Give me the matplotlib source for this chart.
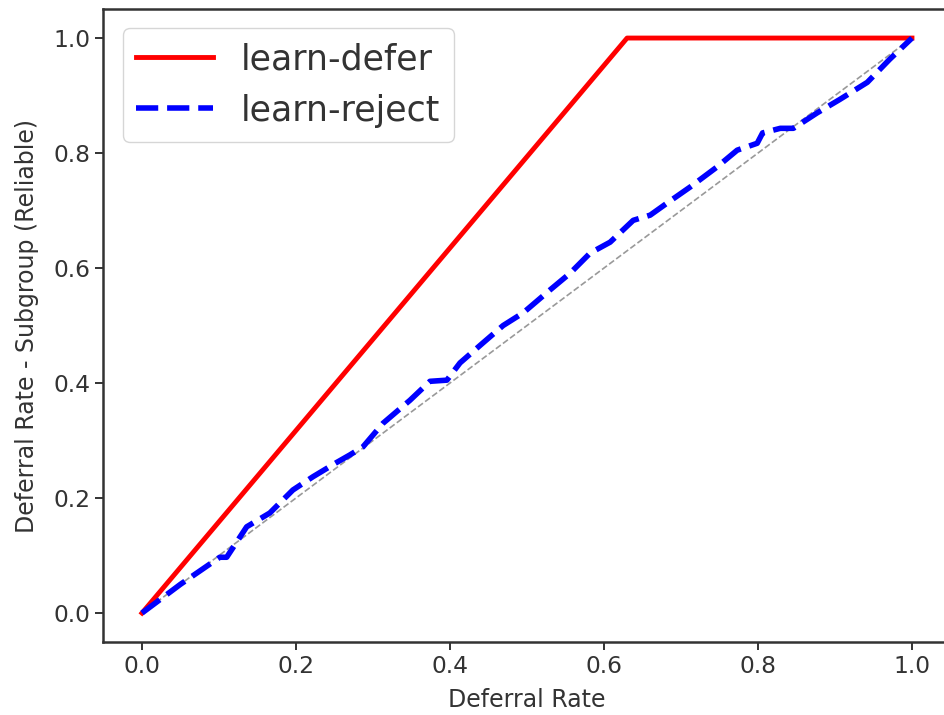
import numpy as np
from matplotlib import pyplot as plt

# red curve: learn-defer
defer_x = [0.0, 0.63, 1.0]
defer_y = [0.0, 1.0, 1.0]

# blue curve: learn-reject
reject_x = [0.0, 0.05, 0.101, 0.11, 0.136, 0.166, 0.196, 0.222, 0.253, 0.27, 0.287,
            0.313, 0.348, 0.374, 0.396, 0.413, 0.443, 0.469, 0.495, 0.53, 0.556,
            0.582, 0.608, 0.638, 0.66, 0.682, 0.712, 0.747, 0.773, 0.799, 0.806,
            0.829, 0.846, 0.877, 0.906, 0.942, 0.971, 1.0]
reject_y = [0.0, 0.05, 0.097, 0.097, 0.15, 0.174, 0.214, 0.237, 0.262, 0.275, 0.289,
            0.33, 0.37, 0.403, 0.405, 0.435, 0.47, 0.50, 0.522, 0.562, 0.591,
            0.626, 0.645, 0.683, 0.692, 0.713, 0.741, 0.776, 0.805, 0.817, 0.835,
            0.843, 0.843, 0.87, 0.893, 0.923, 0.963, 1.0]

diag = [0.0, 1.0]

fig = plt.figure(figsize=(9.45, 7.15), dpi=100)
ax = fig.add_axes([0.1095, 0.1024, 0.8963, 0.8846])

ax.plot(diag, diag, color='gray', linestyle='--', linewidth=1.2, alpha=0.8)
ax.plot(defer_x, defer_y, color='red', linewidth=3.5, label='learn-defer')
ax.plot(reject_x, reject_y, color='blue', linestyle='--', linewidth=4,
        dashes=(4, 1.6), label='learn-reject')

ax.set_xlabel('Deferral Rate', fontsize=17, color='#333333', labelpad=7)
ax.set_ylabel('Deferral Rate - Subgroup (Reliable)', fontsize=17, color='#333333',
              labelpad=10)
ax.tick_params(labelsize=16.8, length=6, width=1.4, labelcolor='#333333', color='#333333')
ax.set_xticks(np.arange(0, 1.01, 0.2))
ax.set_yticks(np.arange(0, 1.01, 0.2))
for s in ax.spines.values():
    s.set_linewidth(1.8)
    s.set_color('#333333')

leg = ax.legend(loc='upper left', fontsize=25, handlelength=2.2, borderaxespad=0.55)
for t in leg.get_texts():
    t.set_color('#333333')

fig.savefig('out.png', dpi=100)
